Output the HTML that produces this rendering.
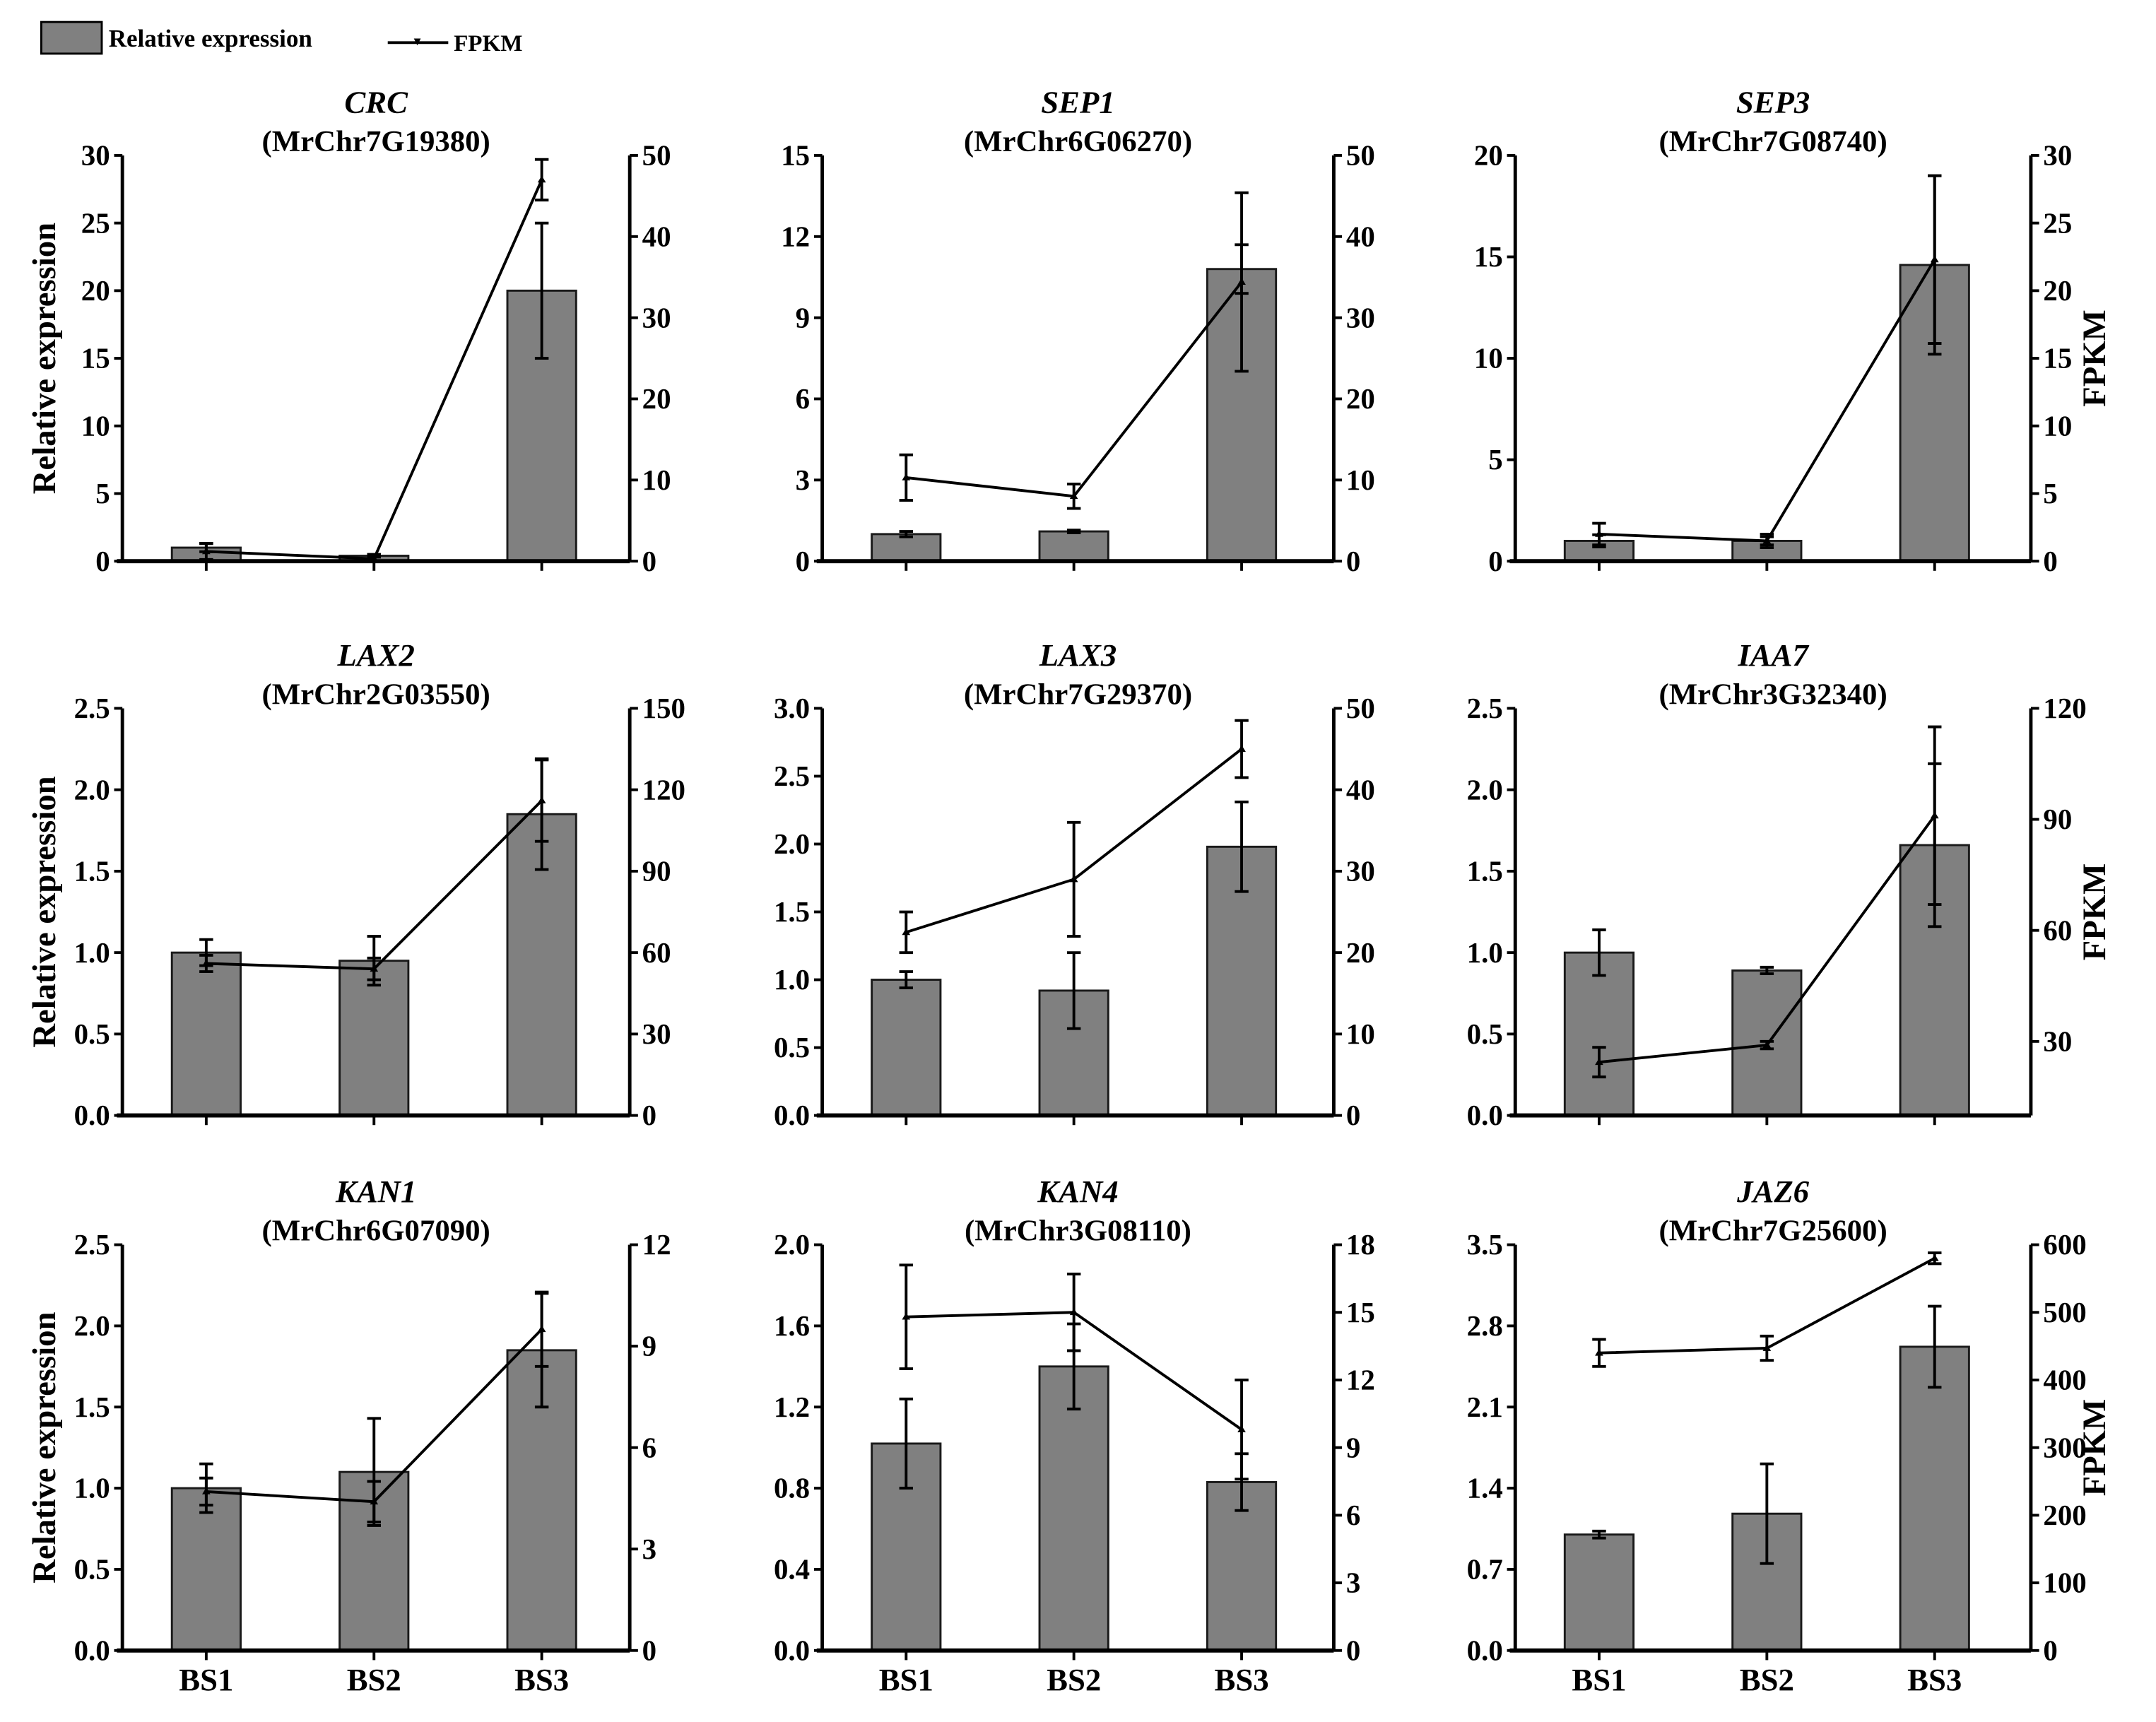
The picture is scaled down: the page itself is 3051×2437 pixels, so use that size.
<!DOCTYPE html>
<html><head><meta charset="utf-8"><style>
html,body{margin:0;padding:0;background:#fff;}
svg{display:block;}
text{font-family:"Liberation Serif",serif;font-weight:bold;fill:#000;}
</style></head><body>
<svg id="fig" width="3051" height="2437" viewBox="0 0 1568 1252" preserveAspectRatio="none" xmlns="http://www.w3.org/2000/svg">
<g>
<rect x="30" y="16" width="44" height="23" fill="#808080" stroke="#000" stroke-width="1.5"/>
<text x="79" y="34" font-size="18">Relative expression</text>
<line x1="282" y1="31" x2="326" y2="31" stroke="#000" stroke-width="2"/>
<path d="M301,28 L306,28 L303.5,33 Z" fill="#000"/>
<text x="330" y="37" font-size="17" font-family="Liberation Sans">FPKM</text>
</g>
</svg>
<script>
const categories=["BS1","BS2","BS3"];
const genes=["CRC","SEP1","SEP3","LAX2","LAX3","IAA7","KAN1","KAN4","JAZ6"];
const geneIds=["(MrChr7G19380)","(MrChr6G06270)","(MrChr7G08740)","(MrChr2G03550)","(MrChr7G29370)","(MrChr3G32340)","(MrChr6G07090)","(MrChr3G08110)","(MrChr7G25600)"];
const barValues=[[1,0.4,20],[1,1.1,10.8],[1,1,14.6],[1,0.95,1.85],[1,0.92,1.98],[1,0.89,1.66],[1,1.1,1.85],[1.02,1.4,0.83],[1,1.18,2.62]];
const barErrors=[[0.3,0.1,5],[0.1,0.05,0.9],[0.3,0.2,4.4],[0.08,0.15,0.34],[0.06,0.28,0.33],[0.14,0.02,0.5],[0.15,0.33,0.35],[0.22,0.21,0.14],[0.03,0.43,0.35]];
const fpkmValues=[[1.2,0.3,47],[10.3,8,34.4],[2,1.5,22.3],[56,54,116],[22.5,29,45],[24.4,29,91],[4.7,4.4,9.5],[14.8,15,9.8],[440,447,580]];
const fpkmErrors=[[1,0.5,2.5],[2.8,1.5,11],[0.8,0.5,6.2],[3,4,15],[2.5,7,3.5],[4,1,24],[0.4,0.6,1.1],[2.3,1.7,2.2],[20,18,8]];
const leftTicks=[["0","5","10","15","20","25","30"],["0","3","6","9","12","15"],["0","5","10","15","20"],["0.0","0.5","1.0","1.5","2.0","2.5"],["0.0","0.5","1.0","1.5","2.0","2.5","3.0"],["0.0","0.5","1.0","1.5","2.0","2.5"],["0.0","0.5","1.0","1.5","2.0","2.5"],["0.0","0.4","0.8","1.2","1.6","2.0"],["0.0","0.7","1.4","2.1","2.8","3.5"]];
const rightTicks=[["0","10","20","30","40","50"],["0","10","20","30","40","50"],["0","5","10","15","20","25","30"],["0","30","60","90","120","150"],["0","10","20","30","40","50"],["30","60","90","120"],["0","3","6","9","12"],["0","3","6","9","12","15","18"],["0","100","200","300","400","500","600"]];
const rightMins=[0,0,0,0,0,10,0,0,0];

const NS="http://www.w3.org/2000/svg";
const svg=document.getElementById('fig');
const colLeft=[89,598,1102],colRight=[458,970,1477];
const rowTop=[113,515,905],rowBot=[408,811,1200];
function mk(tag,attrs,parent){const e=document.createElementNS(NS,tag);for(const k in attrs)e.setAttribute(k,attrs[k]);parent.appendChild(e);return e;}

genes.forEach((g,p)=>{
  const c=p%3,r=Math.floor(p/3);
  const L=colLeft[c],R=colRight[c],T=rowTop[r],B=rowBot[r];
  const grp=mk('g',{},svg);
  
  
  const lt=leftTicks[p],rt=rightTicks[p];
  const lMax=parseFloat(lt[lt.length-1]);
  const rMin=rightMins[p],rMax=parseFloat(rt[rt.length-1]);
  const yL=v=>B-(v/lMax)*(B-T);
  const yR=v=>B-((v-rMin)/(rMax-rMin))*(B-T);
  const xC=i=>L+61+i*122;
  const mid=(L+R)/2;
  const t1=mk('text',{x:mid,y:T-31,'font-size':23,'text-anchor':'middle','font-style':'italic'},grp);
  t1.textContent=g;
  
  
  const t2=mk('text',{x:mid,y:T-3,'font-size':22,'text-anchor':'middle'},grp);
  t2.textContent=geneIds[p];
  
  
  barValues[p].forEach((v,i)=>{
    const b=mk('rect',{x:xC(i)-25,y:yL(v),width:50,height:B-yL(v),fill:'#808080',stroke:'#1a1a1a','stroke-width':1.5},grp);
    
    
    const e=barErrors[p][i];
    const eb=mk('path',{d:`M${xC(i)},${yL(v+e)}V${yL(Math.max(0,v-e))}M${xC(i)-5},${yL(v+e)}h10M${xC(i)-5},${yL(Math.max(0,v-e))}h10`,stroke:'#000','stroke-width':2,fill:'none'},grp);
    
    
  });
  const ax=mk('path',{d:`M${L},${T}V${B}M${R},${T}V${B}`,stroke:'#000','stroke-width':2.5,fill:'none'},grp);
  
  
  const xa=mk('line',{x1:L-4,y1:B,x2:R,y2:B,stroke:'#000','stroke-width':3},grp);
  
  
  categories.forEach((cat,i)=>{
    const tk=mk('line',{x1:xC(i),y1:B,x2:xC(i),y2:B+7,stroke:'#000','stroke-width':2},grp);
    
    
    if(r===2){
      const tl=mk('text',{x:xC(i),y:B+29,'font-size':23,'text-anchor':'middle'},grp);
      tl.textContent=cat;
      
      
    }
  });
  lt.forEach(s=>{
    const y=yL(parseFloat(s));
    const tk=mk('line',{x1:L-6,y1:y,x2:L,y2:y,stroke:'#000','stroke-width':2},grp);
    
    
    const tl=mk('text',{x:L-9,y:y+7,'font-size':21,'text-anchor':'end'},grp);
    tl.textContent=s;
    
    
  });
  rt.forEach(s=>{
    const y=yR(parseFloat(s));
    const tk=mk('line',{x1:R,y1:y,x2:R+6,y2:y,stroke:'#000','stroke-width':2},grp);
    
    
    const tl=mk('text',{x:R+9,y:y+7,'font-size':21,'text-anchor':'start'},grp);
    tl.textContent=s;
    
    
  });
  const pts=fpkmValues[p].map((v,i)=>xC(i)+','+yR(v)).join(' ');
  const ln=mk('polyline',{points:pts,fill:'none',stroke:'#000','stroke-width':2},grp);
  
  
  fpkmValues[p].forEach((v,i)=>{
    const e=fpkmErrors[p][i];
    const eb=mk('path',{d:`M${xC(i)},${yR(v+e)}V${yR(Math.max(rMin,v-e))}M${xC(i)-5},${yR(v+e)}h10M${xC(i)-5},${yR(Math.max(rMin,v-e))}h10`,stroke:'#000','stroke-width':2,fill:'none'},grp);
    
    
    const m=mk('path',{d:`M${xC(i)-3},${yR(v)+2}L${xC(i)+3},${yR(v)+2}L${xC(i)},${yR(v)-3}Z`,fill:'#000'},grp);
    
    
  });
  if(c===0){
    const yl=mk('text',{transform:`translate(40,${(T+B)/2}) rotate(-90)`,'font-size':24,'text-anchor':'middle'},grp);
    yl.textContent='Relative expression';
    
    
  }
  if(c===2){
    const yl=mk('text',{transform:`translate(1531,${(T+B)/2}) rotate(-90)`,'font-size':24,'text-anchor':'middle'},grp);
    yl.textContent='FPKM';
    
    
  }
});
</script>
</body></html>
